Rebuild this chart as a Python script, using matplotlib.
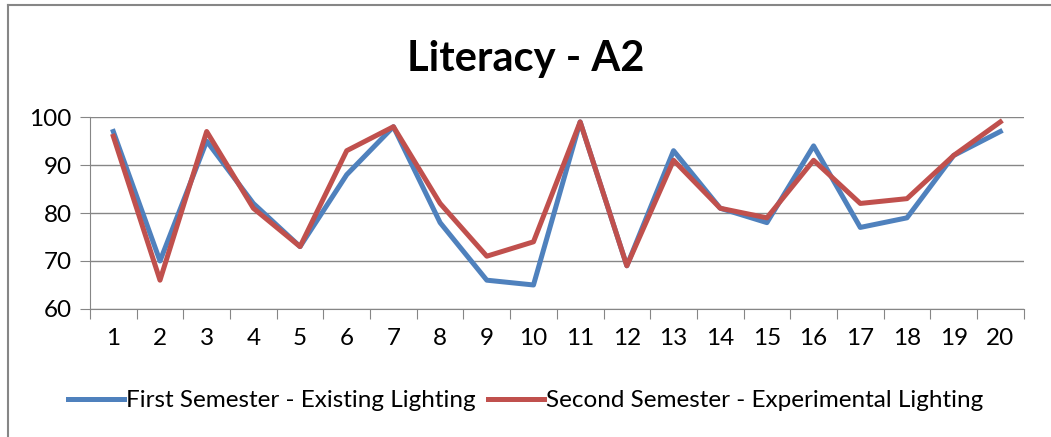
import matplotlib.pyplot as plt
from matplotlib.lines import Line2D

students = list(range(1, 21))
first_sem = [97, 70, 95, 82, 73, 88, 98, 78, 66, 65, 99, 69, 93, 81, 78, 94, 77, 79, 92, 97]
second_sem = [96, 66, 97, 81, 73, 93, 98, 82, 71, 74, 99, 69, 91, 81, 79, 91, 82, 83, 92, 99]
yticks = [60, 70, 80, 90, 100]

plt.rcParams['font.family'] = ['Lato', 'DejaVu Sans']

fig = plt.figure(figsize=(10.51, 4.37), dpi=100)
ax = fig.add_axes([0.0856, 0.293, 0.8884, 0.439])

ax.plot(students, first_sem, color='#4F81BD', lw=3.6, label='First Semester - Existing Lighting')
ax.plot(students, second_sem, color='#C0504D', lw=3.6, label='Second Semester - Experimental Lighting')

ax.set_xlim(0.5, 20.5)
ax.set_ylim(60, 100)
ax.set_yticks(yticks)
ax.set_xticks([i + 0.5 for i in range(0, 21)])
ax.set_xticklabels([])
ax.set_xticks(students, minor=True)
ax.set_xticklabels([str(s) for s in students], minor=True)
ax.tick_params(axis='x', which='minor', length=0, pad=14, labelsize=17.5)
ax.tick_params(axis='x', which='major', length=7, color='#868686', direction='out')
ax.tick_params(axis='y', length=7, color='#868686', labelsize=17.5, pad=6)
ax.grid(axis='y', color='#868686', lw=1)
ax.set_axisbelow(True)
for s in ['top', 'right']:
    ax.spines[s].set_visible(False)
for s in ['left', 'bottom']:
    ax.spines[s].set_color('#868686')

fig.text(0.5, 0.865, 'Literacy - A2', ha='center', va='center', fontsize=30, fontweight='bold')

fig.legend(loc='center', bbox_to_anchor=(0.5, 0.083), ncol=2, frameon=False,
           fontsize=17.5, handlelength=2.3, handletextpad=0.1, columnspacing=0.5)

# outer chart frame: only top and left edges are visible in the crop
fig.add_artist(Line2D([0.0075, 1.0], [0.988, 0.988], color='#868686', lw=1.5, transform=fig.transFigure))
fig.add_artist(Line2D([0.0075, 0.0075], [0.0, 0.988], color='#868686', lw=1.5, transform=fig.transFigure))

fig.savefig('out.png', dpi=100)
